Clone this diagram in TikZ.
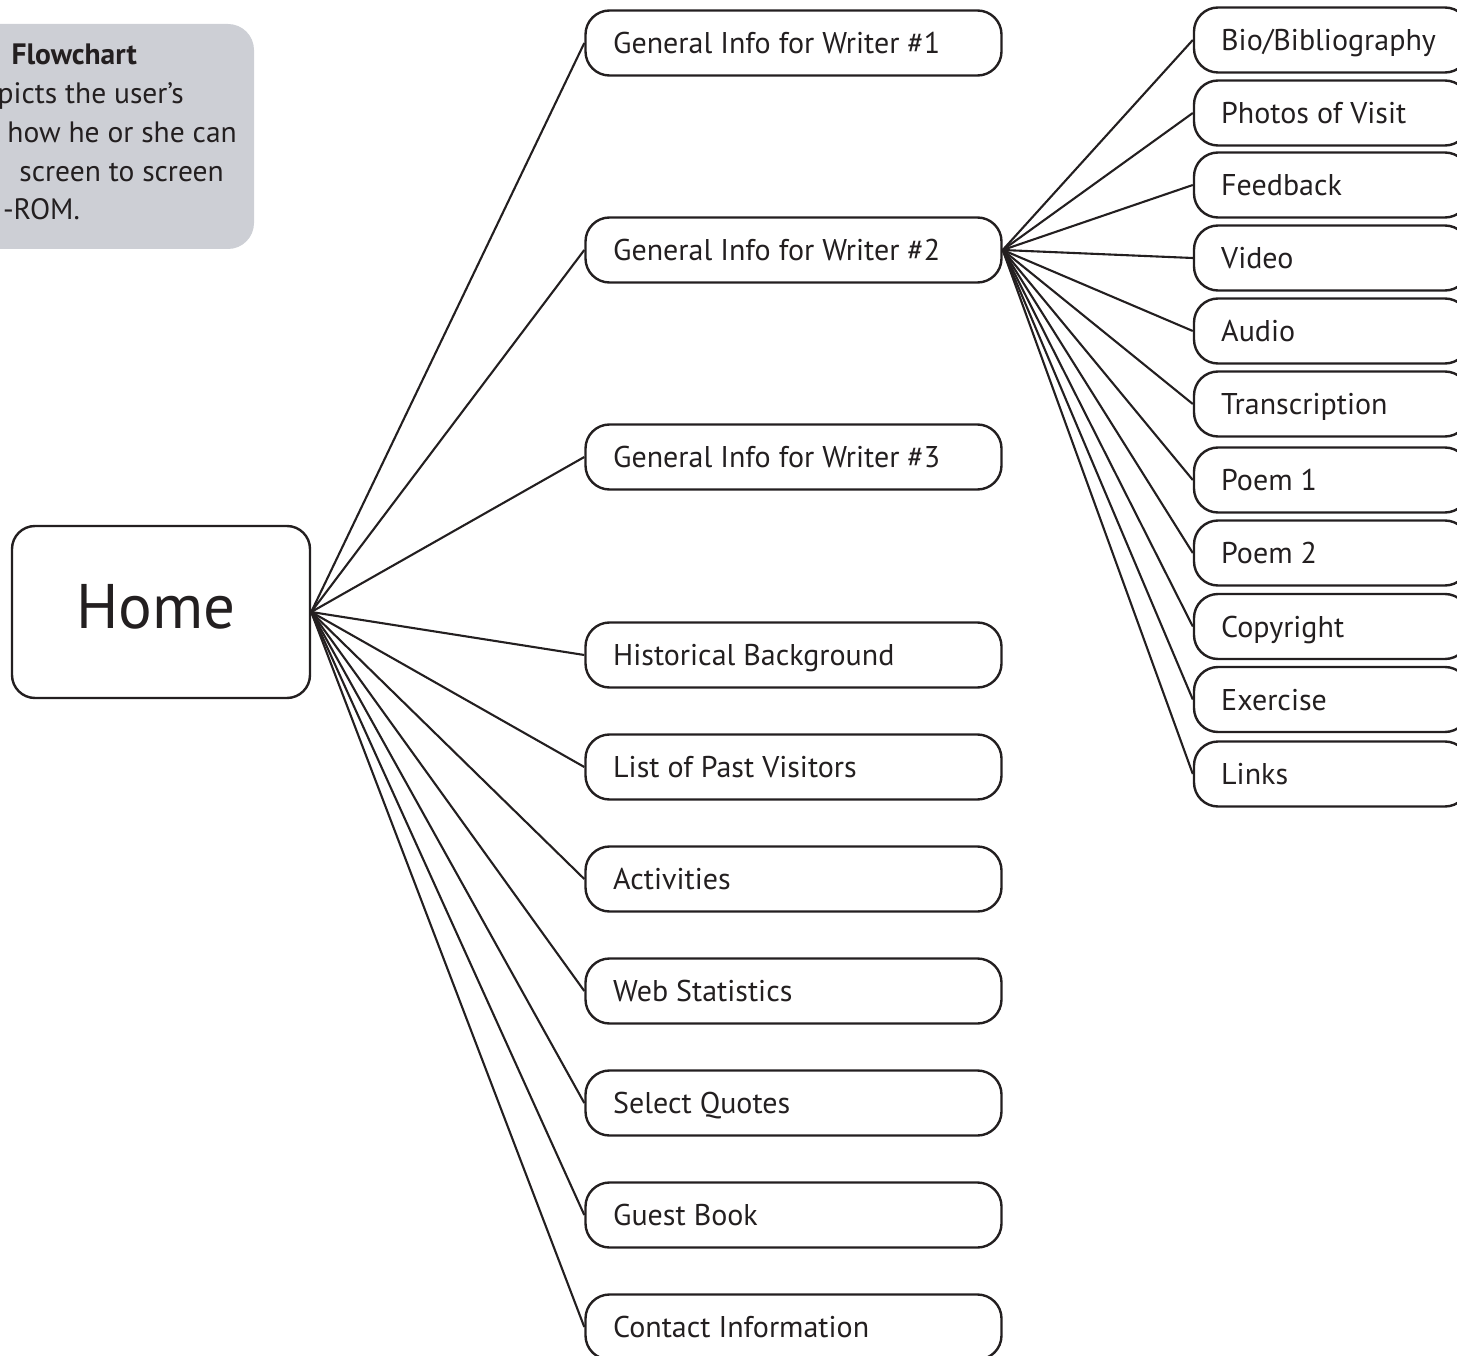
\documentclass[tikz,border=0pt]{standalone}
\usepackage{fontspec}
\setmainfont{PT Sans}
\definecolor{ink}{RGB}{35,31,32}
\definecolor{panel}{RGB}{205,207,213}
\begin{document}
\begin{tikzpicture}[x=1pt,y=-1pt,
  mbox/.style={draw=ink, line width=2.4pt, rounded corners=24pt, minimum width=416pt, minimum height=65pt, inner sep=0pt},
  sbox/.style={draw=ink, line width=2.4pt, rounded corners=24pt, minimum width=275pt, minimum height=65pt, inner sep=0pt},
  lab/.style={anchor=base west, font=\fontsize{30}{36}\selectfont, text=ink, inner sep=0pt},
  note/.style={anchor=base east, font=\fontsize{29.5}{36}\selectfont, text=ink, inner sep=0pt},
  link/.style={draw=ink, line width=2.1pt}]
\useasboundingbox (0,0) rectangle (1457,1356);

% note panel
\node[fill=panel, rounded corners=26pt, minimum width=300pt, minimum height=225pt, inner sep=0pt] (panel) at (104,136.5) {};
\node[note, font=\fontsize{29.5}{36}\selectfont\bfseries] (n1) at (137,65) {Flowchart};
\node[note] (n2) at (184,104) {picts the user{\char"0027}s};
\node[note] (n3) at (237,143) {how he or she can};
\node[note] (n4) at (224,182) {screen to screen};
\node[note] (n5) at (80,220) {-ROM.};

% home
\node[draw=ink, line width=2.4pt, rounded corners=23pt, minimum width=298pt, minimum height=172pt, inner sep=0pt] (home) at (161,612) {};
\node[anchor=base, font=\fontsize{63}{70}\selectfont, text=ink, inner sep=0pt] (hometext) at (156,628) {Home};

% middle column
\foreach \n/\y/\t in {m1/43/{General Info for Writer \#1},
                      m2/250/{General Info for Writer \#2},
                      m3/457/{General Info for Writer \#3},
                      m4/655/{Historical Background},
                      m5/767/{List of Past Visitors},
                      m6/879/{Activities},
                      m7/991/{Web Statistics},
                      m8/1103/{Select Quotes},
                      m9/1215/{Guest Book},
                      m10/1327/{Contact Information}}{
  \node[mbox] (\n) at (793.5,\y) {};
  \node[lab] (\n t) at (613,\y+10.5) {\t};
}

% right column
\foreach \n/\y/\t in {r1/40/{Bio/Bibliography},
                      r2/113/{Photos of Visit},
                      r3/185/{Feedback},
                      r4/258/{Video},
                      r5/331/{Audio},
                      r6/404/{Transcription},
                      r7/480/{Poem 1},
                      r8/553/{Poem 2},
                      r9/626.5/{Copyright},
                      r10/699.5/{Exercise},
                      r11/774/{Links}}{
  \node[sbox] (\n) at (1331.5,\y) {};
  \node[lab] (\n t) at (1221,\y+10.5) {\t};
}

% connectors
\foreach \n in {m1,m2,m3,m4,m5,m6,m7,m8,m9,m10}{
  \draw[link] (home.east) -- (\n.west);
}
\foreach \n in {r1,r2,r3,r4,r5,r6,r7,r8,r9,r10,r11}{
  \draw[link] (m2.east) -- (\n.west);
}
\end{tikzpicture}
\end{document}
